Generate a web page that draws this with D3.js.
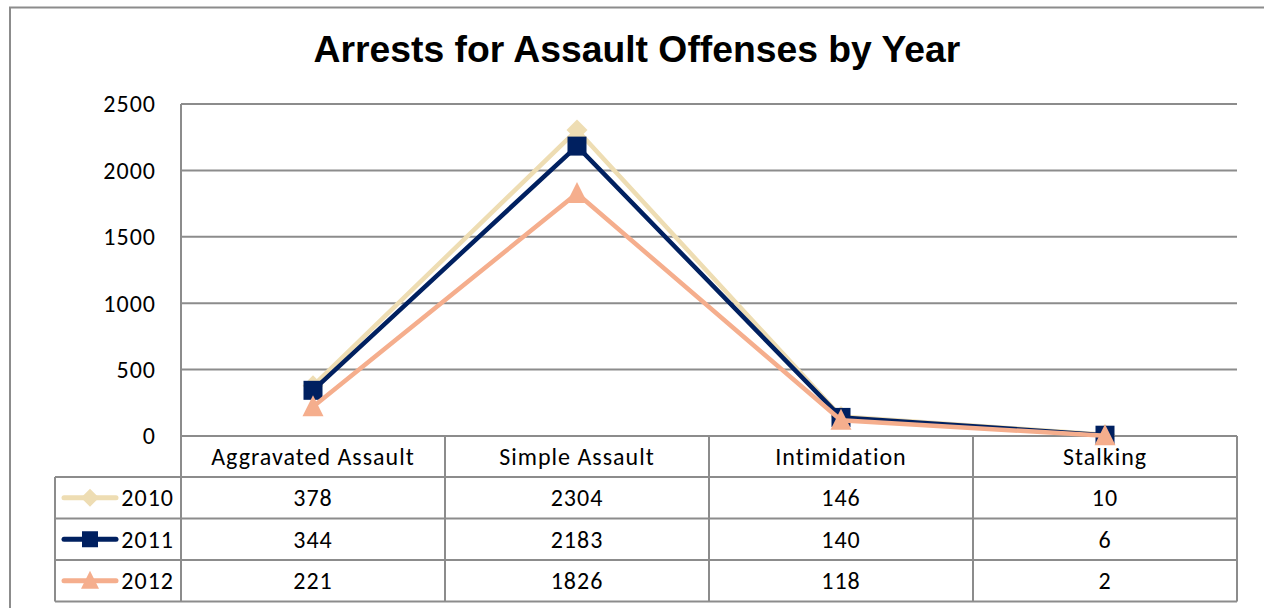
<!DOCTYPE html>
<html><head><meta charset="utf-8">
<script src="https://cdn.jsdelivr.net/npm/d3@7"></script>
<style>
html,body{margin:0;padding:0;background:#fff;}
svg{display:block;}
</style></head>
<body>
<svg id="chart" width="1264" height="608"></svg>
<script>
const categories = ["Aggravated Assault", "Simple Assault", "Intimidation", "Stalking"];
const years = ["2010", "2011", "2012"];
const values2010 = [378, 2304, 146, 10];
const values2011 = [344, 2183, 140, 6];
const values2012 = [221, 1826, 118, 2];
const yTicks = [0, 500, 1000, 1500, 2000, 2500];
const colors = ["#EEDDB3", "#002060", "#F5AE8D"];
const markerTypes = ["diamond", "square", "triangle"];
const series = [values2010, values2011, values2012];

(function () {
const svg = d3.select("#chart");
const font = "Carlito, Calibri, Lato, 'Open Sans', sans-serif";
const fs = 24, ls = 1;
const gridColor = "#8C8C8C";

svg.append("path").attr("d", "M10,1000 V7.5 H1300").attr("fill", "none").attr("stroke", "#8C8C8C").attr("stroke-width", 2);

svg.append("text").attr("x", 637).attr("y", 62).attr("text-anchor", "middle")
  .attr("font-family", "Arial, 'Liberation Sans', sans-serif").attr("font-weight", "bold")
  .attr("font-size", 37.3).attr("fill", "#000").text("Arrests for Assault Offenses by Year");

const pLeft = 181, pRight = 1237, pTop = 104, pBottom = 436;
const x = d3.scaleBand().domain(categories).range([pLeft, pRight]).padding(0);
const y = d3.scaleLinear().domain([0, 2500]).range([pBottom, pTop]);
const cx = c => x(c) + x.bandwidth() / 2;

svg.append("g").selectAll("line").data(yTicks.filter(t => t > 0)).join("line")
  .attr("x1", pLeft).attr("x2", pRight).attr("y1", d => y(d)).attr("y2", d => y(d))
  .attr("stroke", gridColor).attr("stroke-width", 2);

svg.append("line").attr("x1", pLeft).attr("x2", pLeft).attr("y1", pTop).attr("y2", pBottom)
  .attr("stroke", gridColor).attr("stroke-width", 2);

function txt(sel) {
  return sel.attr("font-family", font).attr("font-size", fs).attr("letter-spacing", ls).attr("fill", "#000");
}

txt(svg.append("g").selectAll("text").data(yTicks).join("text")
  .attr("x", 156).attr("y", d => y(d)).attr("dy", "0.35em").attr("text-anchor", "end"))
  .text(d => d);

const rowTop = [436, 477, 518.5, 560];
const rowBottom = 601.5;
const legendLeft = 55;
const tg = svg.append("g").attr("fill", "none").attr("stroke", gridColor).attr("stroke-width", 2);
tg.append("line").attr("x1", pLeft).attr("x2", pRight).attr("y1", rowTop[0]).attr("y2", rowTop[0]);
[rowTop[1], rowTop[2], rowTop[3], rowBottom].forEach(yy => {
  tg.append("line").attr("x1", legendLeft).attr("x2", pRight).attr("y1", yy).attr("y2", yy);
});
tg.append("line").attr("x1", legendLeft).attr("x2", legendLeft).attr("y1", rowTop[1]).attr("y2", rowBottom);
categories.forEach(c => {
  tg.append("line").attr("x1", x(c)).attr("x2", x(c)).attr("y1", rowTop[0]).attr("y2", rowBottom);
});
tg.append("line").attr("x1", pRight).attr("x2", pRight).attr("y1", rowTop[0]).attr("y2", rowBottom);

txt(svg.append("g").selectAll("text").data(categories).join("text")
  .attr("x", d => cx(d)).attr("y", (rowTop[0] + rowTop[1]) / 2).attr("dy", "0.35em")
  .attr("text-anchor", "middle"))
  .text(d => d);

function marker(g, type, color, size) {
  const s = size / 2;
  if (type === "diamond") {
    g.append("path").attr("d", `M0,${-s - 1}L${s + 1},0L0,${s + 1}L${-s - 1},0Z`).attr("fill", color);
  } else if (type === "square") {
    g.append("rect").attr("x", -s).attr("y", -s).attr("width", size).attr("height", size).attr("fill", color);
  } else {
    g.append("path").attr("d", `M0,${-s - 2}L${s + 1},${s}L${-s - 1},${s}Z`).attr("fill", color);
  }
}

const rowsEnd = [rowTop[2], rowTop[3], rowBottom];
series.forEach((vals, i) => {
  const rc = (rowTop[i + 1] + rowsEnd[i]) / 2;
  const kg = svg.append("g");
  kg.append("line").attr("x1", 64).attr("x2", 116).attr("y1", rc).attr("y2", rc)
    .attr("stroke", colors[i]).attr("stroke-width", 5).attr("stroke-linecap", "round");
  marker(kg.append("g").attr("transform", `translate(90,${rc})`), markerTypes[i], colors[i], 16);
  txt(svg.append("text").attr("x", 174).attr("y", rc).attr("dy", "0.35em").attr("text-anchor", "end"))
    .text(years[i]);
  txt(svg.append("g").selectAll("text").data(vals).join("text")
    .attr("x", (d, j) => cx(categories[j])).attr("y", rc).attr("dy", "0.35em")
    .attr("text-anchor", "middle"))
    .text(d => d);
});

const line = d3.line().x((d, j) => cx(categories[j])).y(d => y(d));
series.forEach((vals, i) => {
  svg.append("path").datum(vals).attr("d", line).attr("fill", "none")
    .attr("stroke", colors[i]).attr("stroke-width", 4.5).attr("stroke-linejoin", "miter");
  const g = svg.append("g");
  vals.forEach((v, j) => {
    marker(g.append("g").attr("transform", `translate(${cx(categories[j])},${y(v)})`), markerTypes[i], colors[i], 19);
  });
});
})();
</script>
</body></html>
